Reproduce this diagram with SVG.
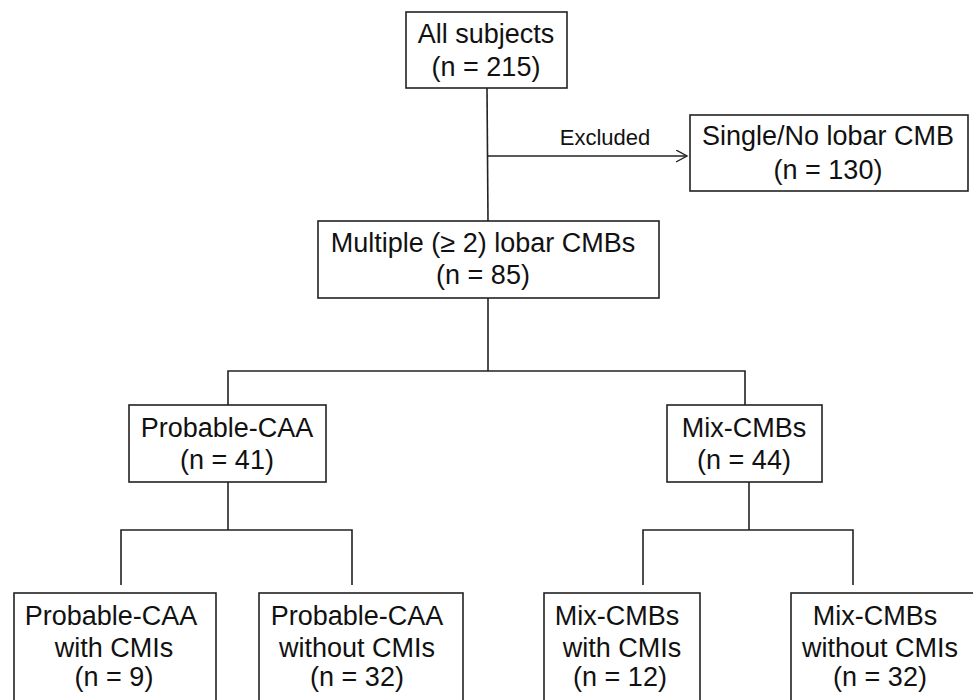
<svg xmlns="http://www.w3.org/2000/svg" width="973" height="700" viewBox="0 0 973 700">
<style>
.box{fill:#fff;stroke:#222;stroke-width:1.6}
.ln{fill:none;stroke:#222;stroke-width:1.6}
text{font-family:"Liberation Sans",Arial,sans-serif;font-size:27px;fill:#111;text-anchor:middle}
.sm{font-size:22px}
</style>
<defs>
<marker id="arr" markerWidth="14" markerHeight="14" refX="11" refY="6" orient="auto" markerUnits="userSpaceOnUse">
<polyline points="0,0 11,6 0,12" fill="none" stroke="#222" stroke-width="1.4"/>
</marker>
</defs>
<rect width="973" height="700" fill="#fff"/>
<g id="connectors">
<line class="ln" x1="487" y1="88" x2="488" y2="221"/>
<line class="ln" x1="488" y1="156" x2="687" y2="156" marker-end="url(#arr)"/>
<text class="sm" x="605" y="145">Excluded</text>
<line class="ln" x1="488" y1="298" x2="488" y2="371"/>
<polyline class="ln" points="228,405 228,371 745,371 745,405"/>
<line class="ln" x1="228" y1="482" x2="228" y2="530"/>
<polyline class="ln" points="121,585 121,530 352,530 352,585"/>
<line class="ln" x1="749" y1="482" x2="749" y2="530"/>
<polyline class="ln" points="643,585 643,530 853,530 853,585"/>
</g>
<g id="all">
<rect class="box" x="406" y="12" width="161" height="76"/>
<text x="486" y="43">All subjects</text>
<text x="486" y="76">(n = 215)</text>
</g>
<g id="excluded">
<rect class="box" x="690" y="115" width="278" height="76"/>
<text x="828" y="145">Single/No lobar CMB</text>
<text x="828" y="179">(n = 130)</text>
</g>
<g id="multiple">
<rect class="box" x="318" y="221" width="341" height="77"/>
<text x="483" y="252">Multiple (≥ 2) lobar CMBs</text>
<text x="483" y="284">(n = 85)</text>
</g>
<g id="caa">
<rect class="box" x="129" y="405" width="197" height="77"/>
<text x="227" y="437">Probable-CAA</text>
<text x="227" y="469">(n = 41)</text>
</g>
<g id="mix">
<rect class="box" x="667" y="405" width="155" height="77"/>
<text x="744" y="437">Mix-CMBs</text>
<text x="744" y="469">(n = 44)</text>
</g>
<g id="caa-with">
<rect class="box" x="14" y="593" width="202" height="120"/>
<text x="111" y="625">Probable-CAA</text>
<text x="114" y="657">with CMIs</text>
<text x="114" y="686">(n = 9)</text>
</g>
<g id="caa-without">
<rect class="box" x="259" y="593" width="204" height="120"/>
<text x="357" y="625">Probable-CAA</text>
<text x="357" y="657">without CMIs</text>
<text x="357" y="686">(n = 32)</text>
</g>
<g id="mix-with">
<rect class="box" x="544" y="593" width="156" height="120"/>
<text x="617" y="625">Mix-CMBs</text>
<text x="622" y="657">with CMIs</text>
<text x="620" y="686">(n = 12)</text>
</g>
<g id="mix-without">
<rect class="box" x="791" y="593" width="185" height="120"/>
<text x="875" y="625">Mix-CMBs</text>
<text x="880" y="657">without CMIs</text>
<text x="880" y="686">(n = 32)</text>
</g>
</svg>
